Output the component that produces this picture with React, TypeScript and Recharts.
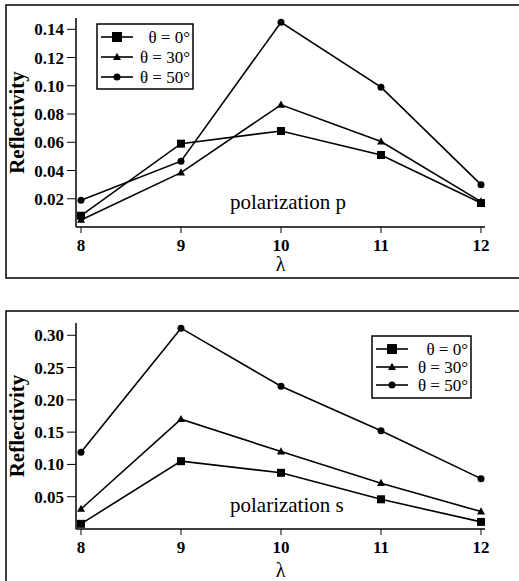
import React from 'react'
import { LineChart, Line, XAxis, YAxis } from 'recharts'

// wavelength categories and reflectivity
const lambdas = [8, 9, 10, 11, 12]

const pTheta0 = [0.008, 0.059, 0.068, 0.051, 0.017]
const pTheta30 = [0.005, 0.0385, 0.0865, 0.0605, 0.018]
const pTheta50 = [0.019, 0.0466, 0.145, 0.099, 0.03]

const sTheta0 = [0.008, 0.105, 0.087, 0.046, 0.011]
const sTheta30 = [0.031, 0.17, 0.12, 0.071, 0.027]
const sTheta50 = [0.119, 0.311, 0.221, 0.152, 0.078]

const pTicks = [0.02, 0.04, 0.06, 0.08, 0.1, 0.12, 0.14]
const sTicks = [0.05, 0.1, 0.15, 0.2, 0.25, 0.3]

const seriesLabels = ['θ = 0°', 'θ = 30°', 'θ = 50°']

const FONT = 'Liberation Serif, Times New Roman, serif'

type Kind = 'square' | 'triangle' | 'circle'
const kinds: Kind[] = ['square', 'triangle', 'circle']

function buildRows(a: number[], b: number[], c: number[]) {
  return lambdas.map((l, i) => ({ lambda: l, t0: a[i], t30: b[i], t50: c[i] }))
}

function Marker({ kind, cx, cy, size = 8 }: { kind: Kind; cx: number; cy: number; size?: number }) {
  if (cx == null || cy == null) return null
  if (kind === 'square') {
    return <rect x={cx - size / 2} y={cy - size / 2} width={size} height={size} fill="#000" />
  }
  if (kind === 'triangle') {
    const h = size * 0.9
    return (
      <polygon
        points={`${cx},${cy - h * 0.6} ${cx - size / 2},${cy + h * 0.4} ${cx + size / 2},${cy + h * 0.4}`}
        fill="#000"
      />
    )
  }
  return <circle cx={cx} cy={cy} r={size / 2} fill="#000" />
}

function dotFor(kind: Kind, size: number) {
  return (p: any) => (
    <g key={`${kind}-${p.index}`}>
      <Marker kind={kind} cx={p.cx} cy={p.cy} size={size} />
    </g>
  )
}

interface PanelProps {
  rows: { lambda: number; t0: number; t30: number; t50: number }[]
  ticks: number[]
  yMax: number
  height: number
  marginTop: number
  marginBottom: number
  xAxisHeight: number
}

function Panel({ rows, ticks, yMax, height, marginTop, marginBottom, xAxisHeight }: PanelProps) {
  const tickStyle = { fontFamily: FONT, fontWeight: 700, fontSize: 17, fill: '#000' }
  return (
    <LineChart
      width={519}
      height={height}
      data={rows}
      margin={{ top: marginTop, right: 34, left: 0, bottom: marginBottom }}
      style={{ fontFamily: FONT }}
    >
      <XAxis
        type="number"
        dataKey="lambda"
        domain={[7.95, 12.04]}
        ticks={lambdas}
        allowDataOverflow
        height={xAxisHeight}
        tick={tickStyle}
        tickSize={6}
        tickMargin={6}
        axisLine={{ stroke: '#000', strokeWidth: 1.5 }}
        tickLine={{ stroke: '#000' }}
        label={{ value: 'λ', position: 'insideBottom', offset: -2, fontSize: 20, fontFamily: FONT, fill: '#000' }}
      />
      <YAxis
        type="number"
        domain={[0, yMax]}
        ticks={ticks}
        allowDataOverflow
        width={76}
        tick={tickStyle}
        tickSize={9}
        tickMargin={3}
        tickFormatter={(v: number) => v.toFixed(2)}
        axisLine={{ stroke: '#000', strokeWidth: 1.5 }}
        tickLine={{ stroke: '#000' }}
        label={{
          value: 'Reflectivity',
          angle: -90,
          position: 'center',
          dx: -21,
          fontSize: 21,
          fontWeight: 700,
          fontFamily: FONT,
          fill: '#000',
        }}
      />
      <Line dataKey="t0" stroke="#000" strokeWidth={1.6} dot={dotFor('square', 8)} activeDot={false} isAnimationActive={false} />
      <Line dataKey="t30" stroke="#000" strokeWidth={1.6} dot={dotFor('triangle', 8)} activeDot={false} isAnimationActive={false} />
      <Line dataKey="t50" stroke="#000" strokeWidth={1.6} dot={dotFor('circle', 7)} activeDot={false} isAnimationActive={false} />
    </LineChart>
  )
}

function LegendBox({ x, y, w, h, rowGap }: { x: number; y: number; w: number; h: number; rowGap: number }) {
  const sizes = [10, 8, 7]
  return (
    <g>
      <rect x={x} y={y} width={w} height={h} fill="#fff" stroke="#000" strokeWidth={1.5} />
      {seriesLabels.map((label, i) => {
        const cy = y + 13 + i * rowGap
        return (
          <g key={label}>
            <line x1={x + 4} x2={x + 36} y1={cy} y2={cy} stroke="#000" strokeWidth={1.6} />
            <Marker kind={kinds[i]} cx={x + 20} cy={cy} size={sizes[i]} />
            <text x={x + w - 3} y={cy + 6} textAnchor="end" fontFamily={FONT} fontSize={17} fill="#000">
              {label}
            </text>
          </g>
        )
      })}
    </g>
  )
}

export default function App() {
  const pRows = buildRows(pTheta0, pTheta30, pTheta50)
  const sRows = buildRows(sTheta0, sTheta30, sTheta50)
  return (
    <div
      style={{
        position: 'absolute',
        left: 0,
        top: 0,
        width: 519,
        height: 581,
        background: '#fff',
        overflow: 'hidden',
        fontFamily: FONT,
      }}
    >
      <div style={{ position: 'absolute', left: 0, top: 0 }}>
        <Panel rows={pRows} ticks={pTicks} yMax={0.148} height={290} marginTop={18} marginBottom={21} xAxisHeight={42} />
      </div>
      <div style={{ position: 'absolute', left: 0, top: 290 }}>
        <Panel rows={sRows} ticks={sTicks} yMax={0.319} height={291} marginTop={33} marginBottom={6} xAxisHeight={46} />
      </div>
      <svg width={519} height={581} style={{ position: 'absolute', left: 0, top: 0, pointerEvents: 'none' }}>
        {/* panel frames */}
        <polyline points="519,5 6,5 6,278 519,278" fill="none" stroke="#000" strokeWidth={1.5} />
        <polyline points="519,311 6,311 6,581" fill="none" stroke="#000" strokeWidth={1.5} />
        <LegendBox x={97} y={24} w={96} h={65} rowGap={20} />
        <LegendBox x={372} y={336} w={99} h={62} rowGap={18} />
        <text x={230} y={209} fontFamily={FONT} fontSize={21} fill="#000">
          polarization p
        </text>
        <text x={230} y={512} fontFamily={FONT} fontSize={21} fill="#000">
          polarization s
        </text>
      </svg>
    </div>
  )
}
